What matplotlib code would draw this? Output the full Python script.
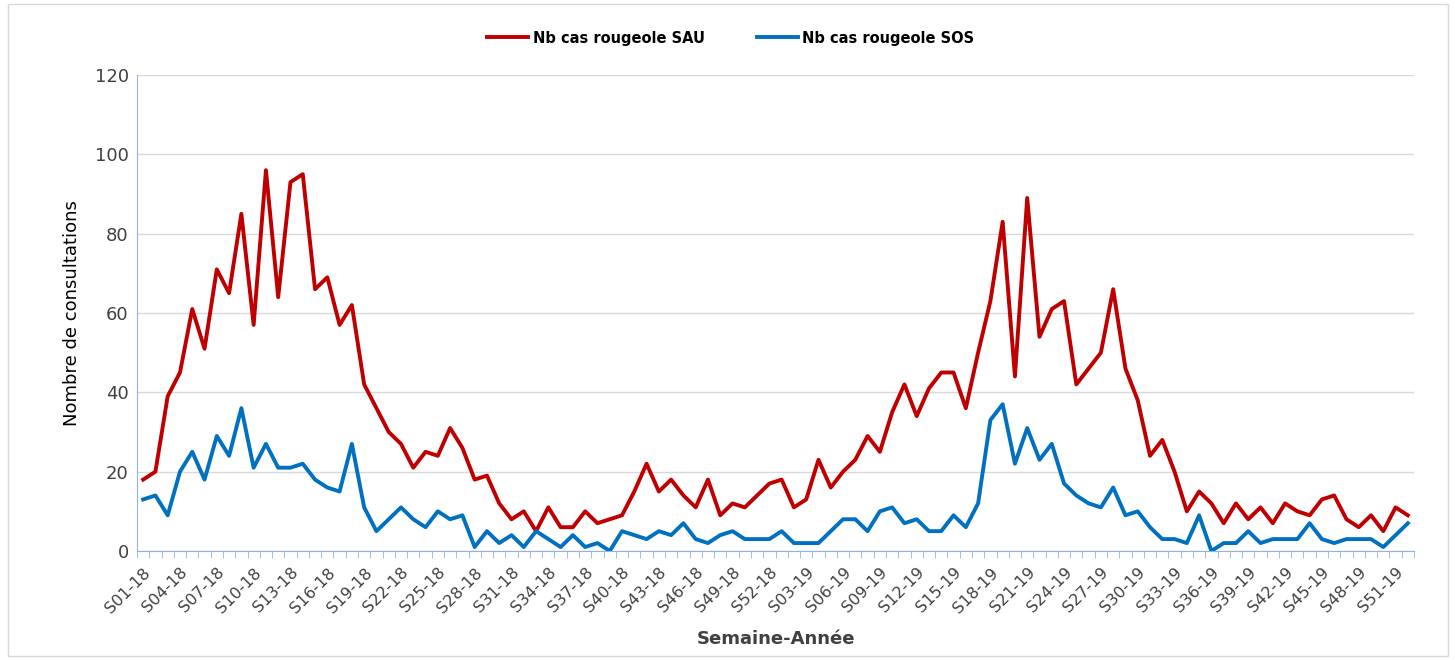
import matplotlib
matplotlib.use('Agg')
import matplotlib.pyplot as plt
import numpy as np

# semaines S01-18 ... S52-19
weeks = ['S%02d-18' % w for w in range(1, 53)] + ['S%02d-19' % w for w in range(1, 53)]

sau = [18, 20, 39, 45, 61, 51, 71, 65, 85, 57, 96, 64, 93, 95, 66, 69, 57, 62, 42, 36,
       30, 27, 21, 25, 24, 31, 26, 18, 19, 12, 8, 10, 5, 11, 6, 6, 10, 7, 8, 9,
       15, 22, 15, 18, 14, 11, 18, 9, 12, 11, 14, 17, 18, 11, 13, 23, 16, 20, 23, 29,
       25, 35, 42, 34, 41, 45, 45, 36, 50, 63, 83, 44, 89, 54, 61, 63, 42, 46, 50, 66,
       46, 38, 24, 28, 20, 10, 15, 12, 7, 12, 8, 11, 7, 12, 10, 9, 13, 14, 8, 6,
       9, 5, 11, 9]

sos = [13, 14, 9, 20, 25, 18, 29, 24, 36, 21, 27, 21, 21, 22, 18, 16, 15, 27, 11, 5,
       8, 11, 8, 6, 10, 8, 9, 1, 5, 2, 4, 1, 5, 3, 1, 4, 1, 2, 0, 5,
       4, 3, 5, 4, 7, 3, 2, 4, 5, 3, 3, 3, 5, 2, 2, 2, 5, 8, 8, 5,
       10, 11, 7, 8, 5, 5, 9, 6, 12, 33, 37, 22, 31, 23, 27, 17, 14, 12, 11, 16,
       9, 10, 6, 3, 3, 2, 9, 0, 2, 2, 5, 2, 3, 3, 3, 7, 3, 2, 3, 3,
       3, 1, 4, 7]

red = '#C00000'
blue = '#0070C0'
axcol = '#8EB4E3'

fig = plt.figure(figsize=(14.55, 6.6), dpi=100)
ax = fig.add_axes([137/1455, 1 - 551/660, (1414-137)/1455, (551-75)/660])

x = np.arange(len(weeks))
ax.plot(x, sau, color=red, lw=2.8, label='Nb cas rougeole SAU')
ax.plot(x, sos, color=blue, lw=2.8, label='Nb cas rougeole SOS')

ax.set_xlim(-0.5, len(weeks) - 0.5)
ax.set_ylim(0, 120)
ax.set_yticks(range(0, 121, 20))
ax.yaxis.grid(True, color='#D9D9D9', lw=1)
ax.set_axisbelow(True)

ax.set_xticks(x[::3])
ax.set_xticklabels(weeks[::3], rotation=45, ha='right', rotation_mode='anchor',
                   fontsize=11.5, color='#404040')
ax.set_xticks(np.arange(-0.5, len(weeks), 1), minor=True)
ax.tick_params(axis='x', which='major', length=0, pad=10)
ax.tick_params(axis='x', which='minor', length=5, color=axcol)
ax.tick_params(axis='y', length=0, labelsize=13, colors='#404040', pad=6)

for s in ['top', 'right']:
    ax.spines[s].set_visible(False)
ax.spines['left'].set_color(axcol)
ax.spines['bottom'].set_color(axcol)

ax.set_ylabel('Nombre de consultations', fontsize=13, color='black', labelpad=10)
ax.set_xlabel('Semaine-Année', fontsize=13, fontweight='bold', color='#404040', labelpad=10)

fig.legend(loc='center', bbox_to_anchor=(731/1455, 1 - 38/660), ncol=2, frameon=False,
           prop={'weight': 'bold', 'size': 10.5}, handlelength=2.8, handletextpad=0.3,
           columnspacing=3.6)

# cadre du graphique
fig.patches.append(plt.Rectangle((8/1455, 4/660), 1440/1455, 652/660, transform=fig.transFigure,
                                 fill=False, edgecolor='#D9D9D9', lw=1))

fig.savefig('out.png', dpi=100)
